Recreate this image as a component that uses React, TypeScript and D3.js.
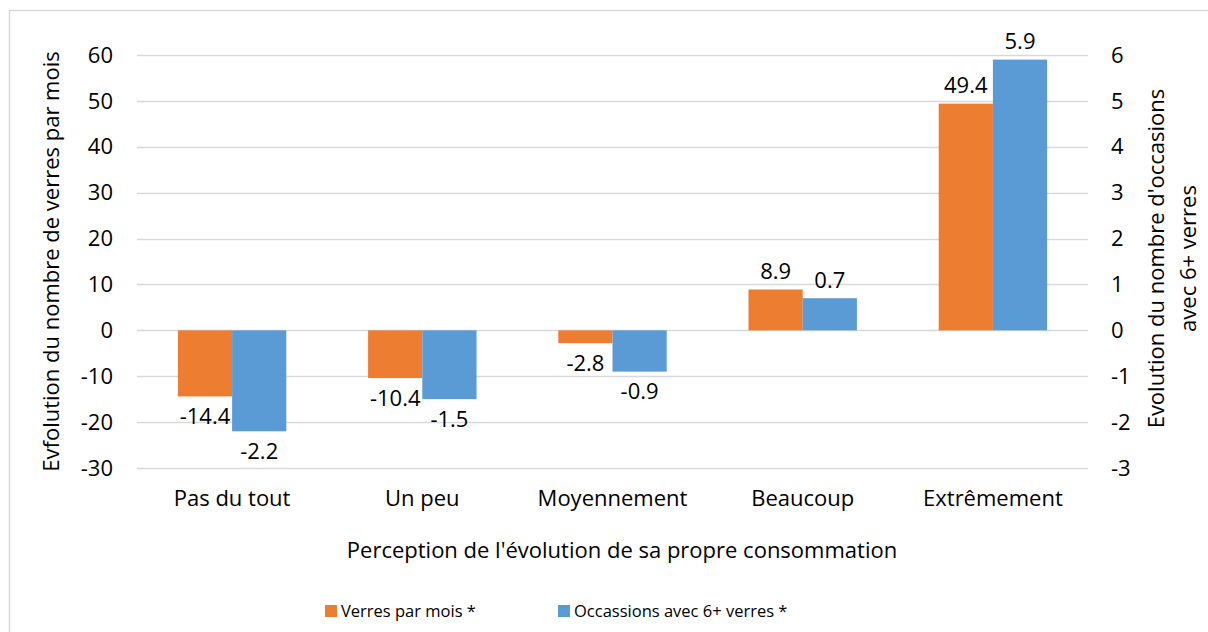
import { useEffect, useRef } from "react"
import * as d3 from "d3"

const categories = ["Pas du tout", "Un peu", "Moyennement", "Beaucoup", "Extrêmement"]
const verresParMois = [-14.4, -10.4, -2.8, 8.9, 49.4]
const occasions6Plus = [-2.2, -1.5, -0.9, 0.7, 5.9]
const leftTicks = [60, 50, 40, 30, 20, 10, 0, -10, -20, -30]
const rightTicks = [6, 5, 4, 3, 2, 1, 0, -1, -2, -3]
const seriesNames = ["Verres par mois *", "Occassions avec 6+ verres *"]
const rightTitle = ["Evolution du nombre d'occasions", "avec 6+ verres"]

const ORANGE = "#ED7D31"
const BLUE = "#5B9BD5"
const GRID = "#D9D9D9"
const FONT = "'Open Sans', sans-serif"
const FS = 22

export default function App() {
  const svgRef = useRef<SVGSVGElement>(null)

  useEffect(() => {
    if (!svgRef.current) return
    const svg = d3.select(svgRef.current)
    svg.selectAll("*").remove()

    const width = 1208
    const height = 632
    const plot = { left: 137, right: 1088, top: 55, bottom: 468 }
    const midY = (plot.top + plot.bottom) / 2

    svg.attr("width", width).attr("height", height).style("font-family", FONT)

    // chart border
    svg
      .append("rect")
      .attr("x", 9.5)
      .attr("y", 10.5)
      .attr("width", width + 20)
      .attr("height", height + 20)
      .attr("fill", "#fff")
      .attr("stroke", GRID)
      .attr("stroke-width", 1.5)

    // scales
    const x0 = d3
      .scaleBand()
      .domain(categories)
      .range([plot.left, plot.right])
      .paddingInner(0.43)
      .paddingOuter(0.215)

    const x1 = d3.scaleBand().domain(["a", "b"]).range([0, x0.bandwidth()])

    const yL = d3.scaleLinear().domain([-30, 60]).range([plot.bottom, plot.top])
    const yR = d3.scaleLinear().domain([-3, 6]).range([plot.bottom, plot.top])

    // gridlines
    svg
      .append("g")
      .selectAll("line")
      .data(leftTicks)
      .join("line")
      .attr("x1", plot.left)
      .attr("x2", plot.right)
      .attr("y1", (d) => Math.round(yL(d)) + 0.5)
      .attr("y2", (d) => Math.round(yL(d)) + 0.5)
      .attr("stroke", GRID)
      .attr("stroke-width", 1.5)

    // left tick labels
    svg
      .append("g")
      .selectAll("text")
      .data(leftTicks)
      .join("text")
      .attr("x", 113)
      .attr("y", (d) => yL(d))
      .attr("dy", "0.35em")
      .attr("text-anchor", "end")
      .attr("font-size", FS)
      .attr("fill", "#000")
      .text((d) => d)

    // right tick labels
    svg
      .append("g")
      .selectAll("text")
      .data(rightTicks)
      .join("text")
      .attr("x", 1111)
      .attr("y", (d) => yR(d))
      .attr("dy", "0.35em")
      .attr("text-anchor", "start")
      .attr("font-size", FS)
      .attr("fill", "#000")
      .text((d) => d)

    // bars
    const bars = svg.append("g")
    categories.forEach((c, i) => {
      const xa = (x0(c) || 0) + (x1("a") || 0)
      const xb = (x0(c) || 0) + (x1("b") || 0)
      const v1 = verresParMois[i]
      const v2 = occasions6Plus[i]
      bars
        .append("rect")
        .attr("x", xa)
        .attr("y", Math.min(yL(v1), yL(0)))
        .attr("width", x1.bandwidth())
        .attr("height", Math.abs(yL(v1) - yL(0)))
        .attr("fill", ORANGE)
      bars
        .append("rect")
        .attr("x", xb)
        .attr("y", Math.min(yR(v2), yR(0)))
        .attr("width", x1.bandwidth())
        .attr("height", Math.abs(yR(v2) - yR(0)))
        .attr("fill", BLUE)

      // data labels
      const lab = (xc: number, yv: number, v: number) =>
        bars
          .append("text")
          .attr("x", xc)
          .attr("y", v < 0 ? yv + 20 : yv - 18)
          .attr("dy", "0.35em")
          .attr("text-anchor", "middle")
          .attr("font-size", FS)
          .attr("fill", "#000")
          .text(v.toFixed(1))
      lab(xa + x1.bandwidth() / 2, yL(v1), v1)
      lab(xb + x1.bandwidth() / 2, yR(v2), v2)
    })

    // category labels
    svg
      .append("g")
      .selectAll("text")
      .data(categories)
      .join("text")
      .attr("x", (d) => (x0(d) || 0) + x0.bandwidth() / 2)
      .attr("y", 498)
      .attr("dy", "0.35em")
      .attr("text-anchor", "middle")
      .attr("font-size", FS)
      .attr("fill", "#000")
      .text((d) => d)

    // axis titles
    svg
      .append("text")
      .attr("x", 622)
      .attr("y", 550)
      .attr("dy", "0.35em")
      .attr("text-anchor", "middle")
      .attr("font-size", FS)
      .text("Perception de l'évolution de sa propre consommation")

    svg
      .append("text")
      .attr("transform", `translate(51, ${midY}) rotate(-90)`)
      .attr("dy", "0.35em")
      .attr("text-anchor", "middle")
      .attr("font-size", FS)
      .text("Evfolution du nombre de verres par mois")

    rightTitle.forEach((line, i) => {
      svg
        .append("text")
        .attr("transform", `translate(${1156 + i * 32}, ${midY - 3}) rotate(-90)`)
        .attr("dy", "0.35em")
        .attr("text-anchor", "middle")
        .attr("font-size", FS)
        .text(line)
    })

    // legend
    const legend = svg.append("g")
    const legendX = [325, 558]
    seriesNames.forEach((name, i) => {
      legend
        .append("rect")
        .attr("x", legendX[i])
        .attr("y", 605)
        .attr("width", 12)
        .attr("height", 12)
        .attr("fill", i === 0 ? ORANGE : BLUE)
      legend
        .append("text")
        .attr("x", legendX[i] + 16)
        .attr("y", 611)
        .attr("dy", "0.35em")
        .attr("font-size", 16.5)
        .text(name)
    })
  }, [])

  return (
    <div style={{ position: "absolute", left: 0, top: 0 }}>
      <svg ref={svgRef} style={{ display: "block" }}></svg>
    </div>
  )
}
